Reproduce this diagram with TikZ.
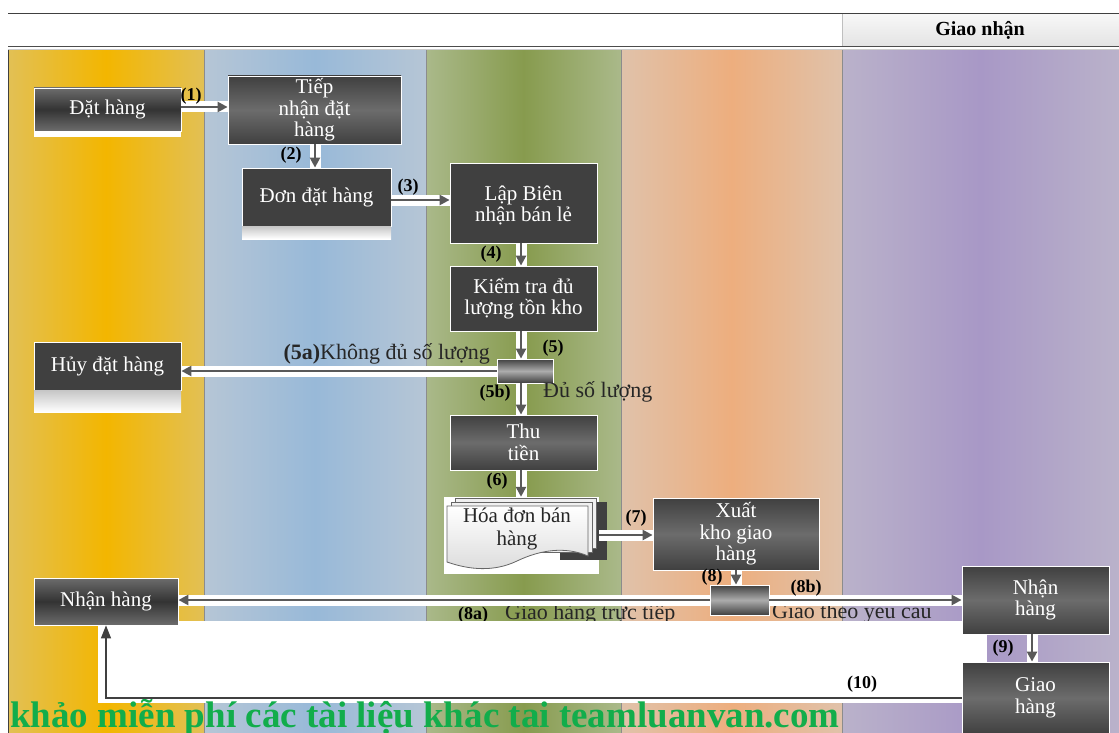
\documentclass[tikz,border=0pt]{standalone}
\usepackage{fontspec}
\setmainfont{Liberation Serif}
\usetikzlibrary{arrows.meta,calc}
\definecolor{boxdark}{HTML}{404040}
\definecolor{boxmid}{HTML}{6C6C6C}
\definecolor{arr}{HTML}{595959}
\definecolor{laneA}{HTML}{E2C055}\definecolor{laneAm}{HTML}{F3B600}
\definecolor{laneB}{HTML}{B6C6D6}\definecolor{laneBm}{HTML}{98B9D8}
\definecolor{laneC}{HTML}{AAB98A}\definecolor{laneCm}{HTML}{879B4E}
\definecolor{laneD}{HTML}{E0C2AA}\definecolor{laneDm}{HTML}{EDAE7E}
\definecolor{laneE}{HTML}{BAB2CA}\definecolor{laneEm}{HTML}{A898C6}
\definecolor{wmgreen}{HTML}{12AD4B}
\newcommand\boxfont{\fontsize{21}{21.5}\selectfont}
\newcommand\lblfont{\bfseries\fontsize{18}{18}\selectfont}
\newcommand\txtfont{\fontsize{22}{22}\selectfont}
\tikzset{
  boxbase/.style={draw=white, line width=0.8pt, text=white, align=center, inner sep=0pt, font=\boxfont},
  boxflat/.style={boxbase, fill=boxdark},
  boxgrad/.style={boxbase, top color=boxdark, bottom color=boxdark, middle color=boxmid},
  boxband/.style={boxbase, top color=boxmid, bottom color=boxmid, middle color=boxdark!80!black},
  bar/.style={draw=white, line width=0.8pt, top color=boxdark, bottom color=boxdark, middle color=gray!65, inner sep=0pt},
  conn/.style={draw=arr, line width=2.4pt, -{Triangle[length=10pt,width=10pt]},
     preaction={draw=white, line width=11pt, -}},
  thin conn/.style={draw=boxdark, line width=1.2pt, -{Triangle[length=13pt,width=10pt]}},
  lbl/.style={font=\lblfont, text=black, inner sep=0pt},
  txt/.style={font=\txtfont, text=black!85, inner sep=0pt},
  docpage/.style={draw=black!60, line width=0.8pt, fill=gray!12},
}
\begin{document}
\begin{tikzpicture}[x=1pt,y=-1pt]
\useasboundingbox (0,0) rectangle (1119,733);
\clip (0,0) rectangle (1119,733);
\fill[white] (0,0) rectangle (1119,733);
% lanes
\shade[left color=laneA, right color=laneA, middle color=laneAm] (8,50) rectangle (204,733);
\shade[left color=laneB, right color=laneB, middle color=laneBm] (204,50) rectangle (426,733);
\shade[left color=laneC, right color=laneC, middle color=laneCm] (426,50) rectangle (621,733);
\shade[left color=laneD, right color=laneD, middle color=laneDm] (621,50) rectangle (842,733);
\shade[left color=laneE, right color=laneE, middle color=laneEm] (842,50) rectangle (1119,733);
\foreach \xx in {204,426,621,842} {\draw[black!45, line width=0.8pt] (\xx,50) -- (\xx,733);}
\draw[black!75, line width=0.8pt] (8,50) -- (8,733);
% header
\shade[top color=gray!6, bottom color=gray!22] (842,14) rectangle (1119,47);
\draw[black!25, line width=0.8pt] (842,14) -- (842,47);
\draw[black!75, line width=1pt] (8,14) -- (1119,14);
\draw[black!70, line width=1pt] (8,47) -- (1119,47);
\draw[black!20, line width=0.8pt] (8,49) -- (1119,49);
\node[font=\bfseries\fontsize{20}{20}\selectfont, inner sep=0pt] (h5) at (980,30) {Giao nhận};
% labels under the delivery arrows (cut by the white panel)
\node[lbl, anchor=base west] (l8a) at (458,619) {(8a)};
\node[txt, anchor=base west] (t8a) at (505,619) {Giao hàng trực tiếp};
\node[txt, anchor=base west] (t8b) at (772,618) {Giao theo yêu cầu};
% white panel
\fill[white] (98,621) rectangle (987,703);
% watermark
\node[font=\bfseries\fontsize{37}{37}\selectfont, text=wmgreen, anchor=base west, inner sep=0pt] (wm) at (10,727) {khảo miễn phí các tài liệu khác tai teamluanvan.com};
% boxes
\node[boxband, minimum width=147pt, minimum height=43pt] (b1) at (107.5,109.5) {Đặt hàng};
\fill[white] (34,131) rectangle (181,137);
\node[boxgrad, minimum width=173pt, minimum height=68pt] (b2) at (314.5,110) {Tiếp\\nhận đặt\\hàng};
\node[boxflat, minimum width=149pt, minimum height=58pt] (b3) at (316.5,197) {Đơn đặt hàng};
\shade[top color=gray!45, bottom color=white] (242,226) rectangle (391,239);
\node[boxflat, minimum width=147pt, minimum height=80pt] (b4) at (523.5,203) {\\[-2pt]Lập Biên\\nhận bán lẻ};
\node[boxflat, minimum width=147pt, minimum height=65pt] (b5) at (523.5,298.5) {Kiểm tra đủ\\lượng tồn kho};
\node[bar, minimum width=56pt, minimum height=24pt] (d1) at (525,371) {};
\node[boxflat, minimum width=147pt, minimum height=48pt] (huy) at (107.5,366) {Hủy đặt hàng};
\shade[top color=gray!45, bottom color=white] (34,390) rectangle (181,412);
\node[boxgrad, minimum width=147pt, minimum height=55pt] (thu) at (523.5,442.5) {Thu\\tiền};
% invoice (multi-document)
\node[fill=white, minimum width=155pt, minimum height=77pt, inner sep=0pt] (hd) at (521.5,535.5) {};
\fill[boxdark] (560,502) rectangle (607,560);
\draw[docpage] (455,498) -- (596,498) -- (596,548) -- (455,548) -- cycle;
\draw[docpage] (451,502) -- (592,502) -- (592,552) -- (451,552) -- cycle;
\draw[draw=black!60, line width=0.8pt, top color=white, bottom color=gray!28]
  (447,506) -- (588,506) -- (588,556)
  .. controls (565,546) and (540,550) .. (517,561)
  .. controls (494,572) and (470,570) .. (447,562) -- cycle;
\node[font=\fontsize{21}{23}\selectfont, text=black!85, align=center, inner sep=0pt] (hdt) at (517,529) {Hóa đơn bán\\hàng};
\node[boxgrad, minimum width=166pt, minimum height=72pt] (xuat) at (736,534) {Xuất\\kho giao\\hàng};
\node[bar, minimum width=59pt, minimum height=30pt] (d2) at (739.5,600) {};
\node[boxband, minimum width=144pt, minimum height=47pt] (nhan1) at (106,601.5) {Nhận hàng};
\node[boxgrad, minimum width=147pt, minimum height=68pt] (nhan2) at (1035.5,600) {Nhận\\hàng};
\node[boxgrad, minimum width=147pt, minimum height=72pt] (giao) at (1035.5,698) {Giao\\hàng};
% connectors
\draw[conn] (b1.east |- 0,107) -- (b2.west |- 0,107);
\draw[conn] (b2.south -| 315,0) -- (b3.north -| 315,0);
\draw[conn] (b3.east |- 0,200) -- (b4.west |- 0,200);
\draw[conn] (b4.south -| 521,0) -- (b5.north -| 521,0);
\draw[conn] (b5.south -| 521,0) -- (d1.north -| 521,0);
\draw[conn] (d1.west) -- (d1.west -| huy.east);
\draw[conn] (d1.south -| 521,0) -- (thu.north -| 521,0);
\draw[conn] (thu.south -| 521,0) -- (hd.north -| 521,0);
\draw[conn] (hd.east |- 0,535) -- (xuat.west |- 0,535);
\draw[conn] (xuat.south) -- (d2.north -| xuat.south);
\draw[conn] (d2.west) -- (d2.west -| nhan1.east);
\draw[conn] (d2.east) -- (d2.east -| nhan2.west);
\draw[conn] (nhan2.south -| 1032,0) -- (giao.north -| 1032,0);
\draw[thin conn] (giao.west) -| (nhan1.south);
% step labels
\node[lbl] (l1) at (191,96) {(1)};
\node[lbl] (l2) at (291,155) {(2)};
\node[lbl] (l3) at (408,187) {(3)};
\node[lbl] (l4) at (491,254) {(4)};
\node[lbl] (l5) at (553,348) {(5)};
\node[txt, anchor=east] (l5a) at (490,354) {\textbf{(5a)}Không đủ số lượng};
\node[lbl] (l5b) at (495,393) {(5b)};
\node[txt, anchor=west] (t5b) at (543,392) {Đủ số lượng};
\node[lbl] (l6) at (497,481) {(6)};
\node[lbl] (l7) at (636,518) {(7)};
\node[lbl] (l8) at (712,577) {(8)};
\node[lbl] (l8b) at (806,588) {(8b)};
\node[lbl] (l9) at (1003,648) {(9)};
\node[lbl] (l10) at (862,684) {(10)};
\end{tikzpicture}
\end{document}
